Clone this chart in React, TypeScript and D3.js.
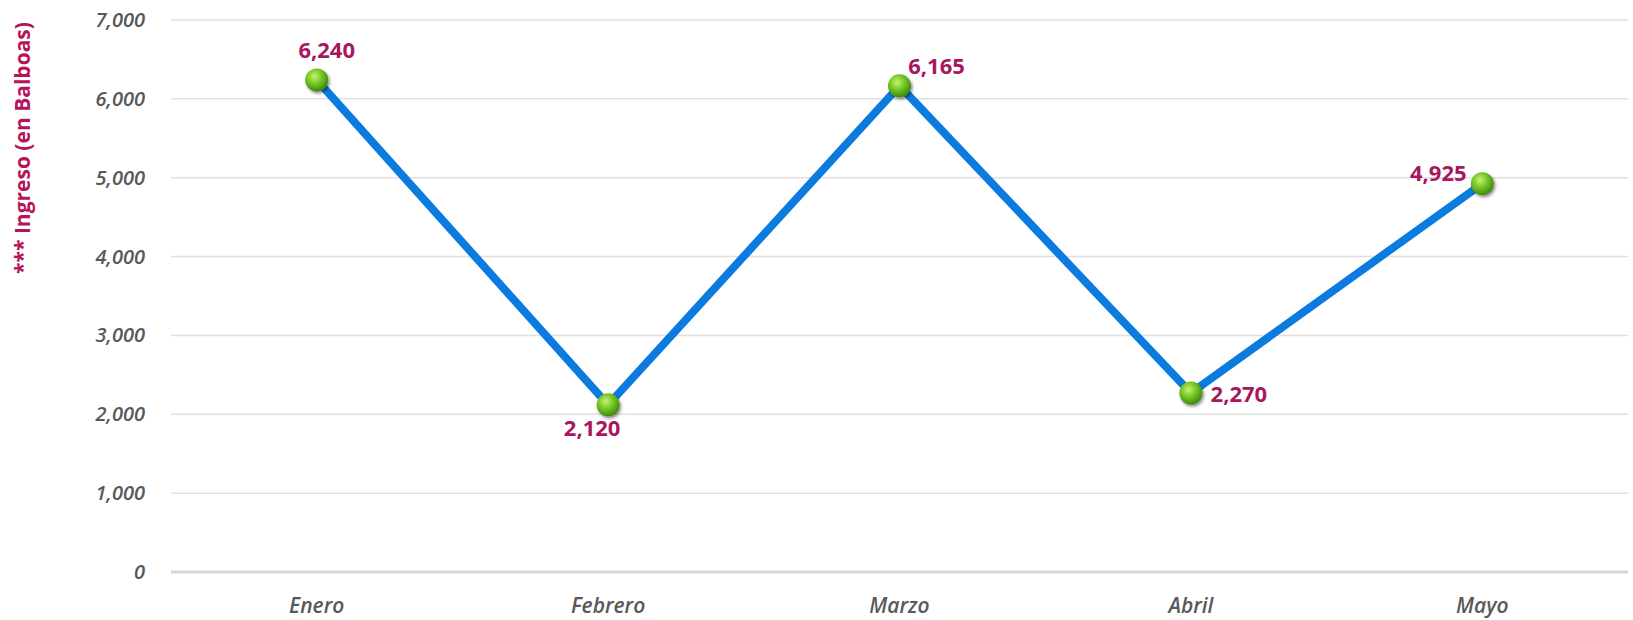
import React from "react";
import * as d3 from "d3";

const categories = ["Enero", "Febrero", "Marzo", "Abril", "Mayo"];
const values = [6240, 2120, 6165, 2270, 4925];
const yTicks = [0, 1000, 2000, 3000, 4000, 5000, 6000, 7000];
const yTitle = "*** Ingreso (en Balboas)";

// label placement offsets (layout only)
const labelOffsets: [number, number][] = [
  [10, -30],
  [-16, 23],
  [37, -20],
  [48, 1],
  [-44, -10],
];

const W = 1633;
const H = 620;
const margin = { left: 171, right: 5, top: 20, bottom: 48 };

export default function App() {
  const x = d3
    .scaleBand<string>()
    .domain(categories)
    .range([margin.left, W - margin.right])
    .paddingInner(0)
    .paddingOuter(0);
  const y = d3.scaleLinear().domain([0, 7000]).range([H - margin.bottom, margin.top]);
  const cx = (c: string) => (x(c) ?? 0) + x.bandwidth() / 2;
  const line = d3
    .line<number>()
    .x((_, i) => cx(categories[i]))
    .y((d) => y(d));
  const fmt = d3.format(",");
  const font = "'Open Sans', 'Noto Sans', sans-serif";

  return (
    <svg
      width={W}
      height={H}
      style={{ position: "absolute", left: 0, top: 0, background: "#fff" }}
    >
      <defs>
        <radialGradient id="ball" cx="40%" cy="35%" r="65%">
          <stop offset="0%" stopColor="#c8f27a" />
          <stop offset="45%" stopColor="#7ccc2a" />
          <stop offset="100%" stopColor="#3f8a0c" />
        </radialGradient>
        <filter id="shadow" x="-50%" y="-50%" width="200%" height="200%">
          <feDropShadow dx="1.5" dy="2" stdDeviation="1.5" floodColor="#000" floodOpacity="0.45" />
        </filter>
      </defs>
      {yTicks.map((t) => (
        <g key={t}>
          <line
            x1={margin.left}
            x2={W - margin.right}
            y1={y(t)}
            y2={y(t)}
            stroke={t === 0 ? "#d6d6d6" : "#e0e0e0"}
            strokeWidth={t === 0 ? 3 : 1.5}
          />
          <text
            x={145}
            y={y(t)}
            dy="0.35em"
            textAnchor="end"
            fontFamily={font}
            fontStyle="italic"
            fontWeight={600}
            fontSize={20}
            fill="#595959"
          >
            {fmt(t)}
          </text>
        </g>
      ))}
      {categories.map((c) => (
        <text
          key={c}
          x={cx(c)}
          y={y(0) + 34}
          dy="0.35em"
          textAnchor="middle"
          fontFamily={font}
          fontStyle="italic"
          fontWeight={600}
          fontSize={21}
          fill="#595959"
        >
          {c}
        </text>
      ))}
      <text
        transform={`translate(23, 148) rotate(-90)`}
        textAnchor="middle"
        dy="0.35em"
        fontFamily={font}
        fontWeight={700}
        fontSize={21}
        fill="#b5135b"
      >
        {yTitle}
      </text>
      <path
        d={line(values) ?? ""}
        fill="none"
        stroke="#0b7be0"
        strokeWidth={8}
        strokeLinejoin="round"
      />
      {values.map((v, i) => (
        <circle
          key={i}
          cx={cx(categories[i])}
          cy={y(v)}
          r={11.5}
          fill="url(#ball)"
          filter="url(#shadow)"
        />
      ))}
      {values.map((v, i) => (
        <text
          key={"l" + i}
          x={cx(categories[i]) + labelOffsets[i][0]}
          y={y(v) + labelOffsets[i][1]}
          dy="0.35em"
          textAnchor="middle"
          fontFamily={font}
          fontWeight={700}
          fontSize={22}
          fill="#a8175d"
        >
          {fmt(v)}
        </text>
      ))}
    </svg>
  );
}
